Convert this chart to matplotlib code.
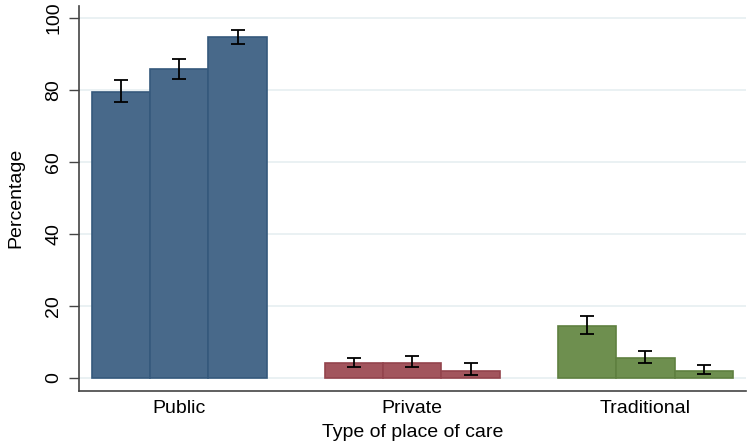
import matplotlib.pyplot as plt
import numpy as np

plt.rcParams["font.family"] = ["Liberation Sans", "DejaVu Sans"]

categories = ["Public", "Private", "Traditional"]
colors = ["#48698A", "#A2555D", "#6E8F4F"]
edge_colors = ["#35597C", "#93444D", "#5F8040"]

# three bars per category, with 95% CI bounds
values = [
    [79.5, 85.9, 94.7],
    [4.0, 4.1, 1.9],
    [14.4, 5.4, 1.8],
]
ci_low = [
    [76.6, 83.0, 92.7],
    [3.1, 2.9, 0.8],
    [12.1, 4.1, 1.0],
]
ci_high = [
    [82.6, 88.6, 96.5],
    [5.6, 6.1, 4.0],
    [17.1, 7.4, 3.4],
]

fig = plt.figure(figsize=(7.49, 4.47), dpi=100)
ax = fig.add_axes([0.1055, 0.126, 0.89, 0.8606])

for g, cat in enumerate(categories):
    x = np.arange(3) + 4 * g
    ax.bar(x, values[g], width=1.0, color=colors[g], edgecolor=edge_colors[g],
           linewidth=1.2, zorder=2)
    v = np.array(values[g])
    lo = v - np.array(ci_low[g])
    hi = np.array(ci_high[g]) - v
    ax.errorbar(x, v, yerr=[lo, hi], fmt="none", ecolor="black",
                elinewidth=1.3, capsize=5, capthick=1.3, zorder=3)

ax.set_xlim(-0.72, 10.72)
ax.set_ylim(-3.6, 103.3)
ax.set_xticks([1, 5, 9])
ax.set_xticklabels(categories, fontsize=14)
ax.tick_params(axis="x", length=0, pad=7)
ax.set_yticks([0, 20, 40, 60, 80, 100])
ax.set_yticklabels(["0", "20", "40", "60", "80", "100"], rotation=90,
                   va="center", fontsize=14)
ax.tick_params(axis="y", length=7.2, width=1, color="#444444", pad=5)
ax.yaxis.grid(True, color="#E6EFF1", linewidth=1.2, zorder=0)
ax.set_axisbelow(True)

for side in ["top", "right"]:
    ax.spines[side].set_visible(False)
for side in ["left", "bottom"]:
    ax.spines[side].set_color("#444444")
    ax.spines[side].set_linewidth(1.2)

ax.set_ylabel("Percentage", fontsize=14, labelpad=15)
ax.set_xlabel("Type of place of care", fontsize=14, labelpad=5)

fig.savefig("out.png", dpi=100)
